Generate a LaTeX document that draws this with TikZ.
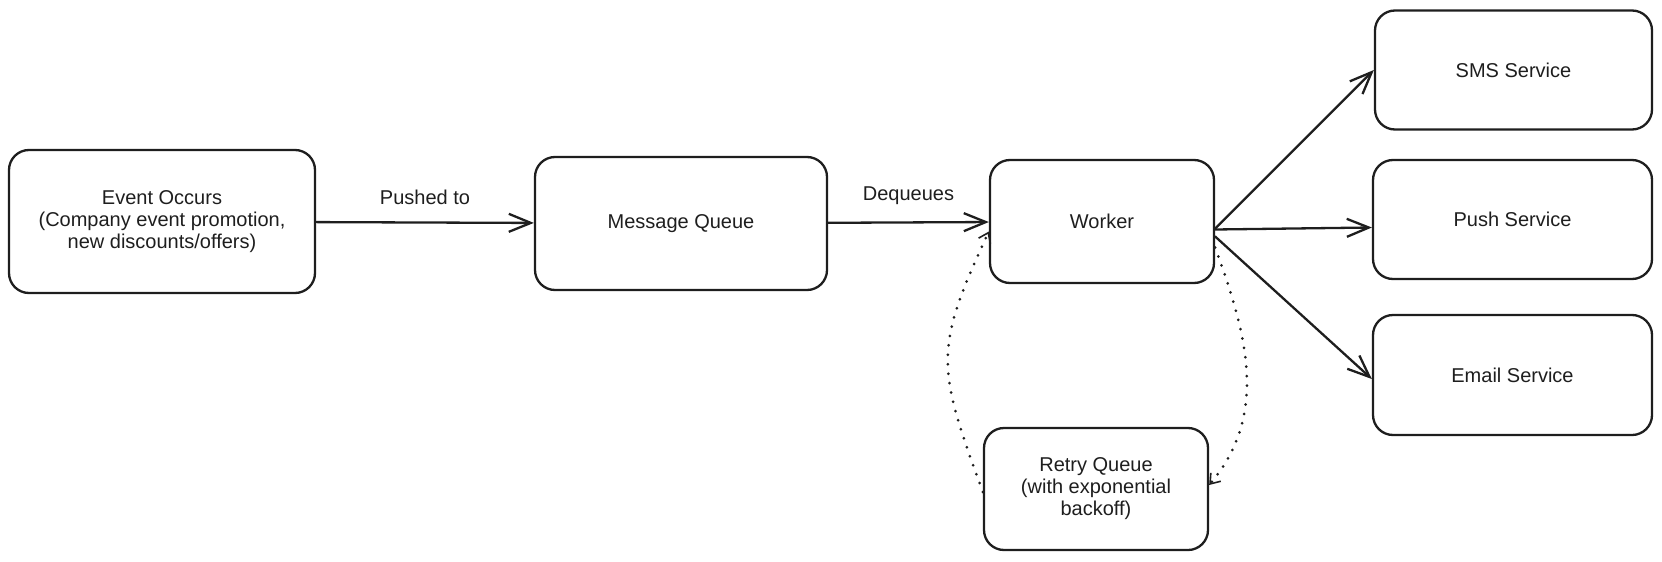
\documentclass[tikz,border=0pt]{standalone}
\usepackage{fontspec}
\setmainfont{Liberation Sans}
\usetikzlibrary{arrows.meta}
\definecolor{ink}{HTML}{1E1E1E}
\begin{document}
\begin{tikzpicture}[x=1pt, y=-1pt, font=\fontsize{20}{22}\selectfont, line join=round, line cap=round, >={Straight Barb[length=22pt,width=18pt]}, color=ink]
	\tikzset{card/.style={draw, line width=2.3pt, rounded corners=20pt, inner sep=0pt, align=center},
		link/.style={line width=2.3pt, ->},
		retry/.style={line width=3pt, dash pattern=on 0pt off 9.5pt, -{Straight Barb[length=9pt,width=13pt,line width=1.6pt]}},
		tag/.style={inner sep=2pt}}
	\useasboundingbox (0,0) rectangle (1662,562);
	\node[card, minimum width=306pt, minimum height=143pt] (ev) at (162,221.5) {Event Occurs\\(Company event promotion,\\new discounts/offers)};
	\node[card, minimum width=292pt, minimum height=133pt] (mq) at (681,223.5) {Message Queue};
	\node[card, minimum width=224pt, minimum height=123pt] (wk) at (1102,221.5) {Worker};
	\node[card, minimum width=224pt, minimum height=122pt] (rq) at (1096,489) {Retry Queue\\(with exponential\\backoff)};
	\node[card, minimum width=277pt, minimum height=119pt] (sms) at (1513.5,70) {SMS Service};
	\node[card, minimum width=279pt, minimum height=119pt] (push) at (1512.5,219.5) {Push Service};
	\node[card, minimum width=279pt, minimum height=120pt] (email) at (1512.5,375) {Email Service};
	\draw[link] (ev) -- (mq) node[midway, above=15pt, tag] (lpush) {Pushed to};
	\draw[link] (mq) -- (wk) node[midway, above=15pt, tag] (ldeq) {Dequeues};
	\draw[link] ([yshift=-7pt]wk.east) -- (sms.west);
	\draw[link] ([yshift=-8pt]wk.east) -- ([yshift=-8pt]push.west);
	\draw[link] ([yshift=-15pt]wk.east) -- ([yshift=-4pt]email.west);
	\draw[retry] ([yshift=-26pt]wk.east) to[out=-70, in=50] ([yshift=4pt]rq.east);
	\draw[retry] ([yshift=-3pt]rq.west) to[out=110, in=-115, looseness=1.3] ([yshift=-10pt]wk.west);
\end{tikzpicture}
\end{document}
